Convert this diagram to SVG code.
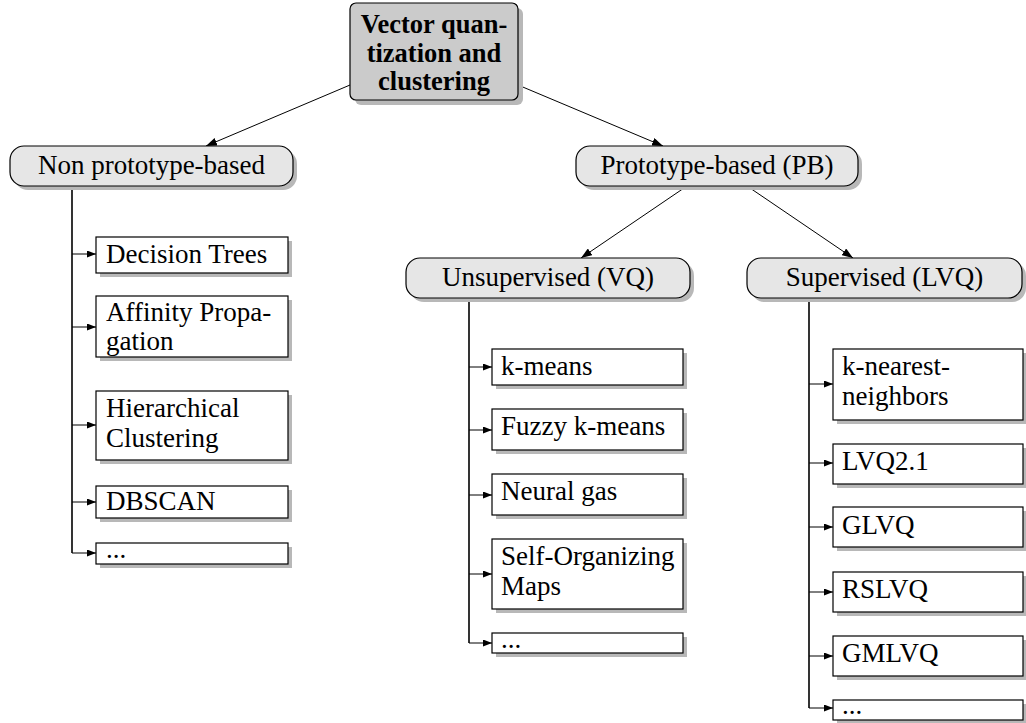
<svg xmlns="http://www.w3.org/2000/svg" width="1026" height="723" viewBox="0 0 1026 723">
<style>
text{font-family:"Liberation Serif","Times New Roman",serif;font-size:27px;fill:#000}
.title{font-weight:bold;font-size:26.5px}
.c{text-anchor:middle}
.sh{fill:#b8b8b8;stroke:none}
.root{fill:#cbcbcb;stroke:#000;stroke-width:1.2}
.pill{fill:#e6e6e6;stroke:#000;stroke-width:1.2}
.box{fill:#fff;stroke:#000;stroke-width:1.2}
.edge{fill:none;stroke:#000;stroke-width:1}
.trunk{fill:none;stroke:#000;stroke-width:1.6}
</style>
<defs>
<marker id="ah" markerUnits="userSpaceOnUse" markerWidth="9" markerHeight="7" refX="9" refY="3.5" orient="auto"><path d="M0,0 L9,3.5 L0,7 z" fill="#000"/></marker>
<marker id="ahL" markerUnits="userSpaceOnUse" markerWidth="11" markerHeight="8" refX="11" refY="4" orient="auto"><path d="M0,0 L11,4 L0,8 z" fill="#000"/></marker>
</defs>

<g id="connectors">
<path class="edge" d="M350,85 L206,146" marker-end="url(#ahL)"/>
<path class="edge" d="M518,85 L663,146" marker-end="url(#ahL)"/>
<path class="edge" d="M687,186 L581,258" marker-end="url(#ahL)"/>
<path class="edge" d="M747,186 L853,258" marker-end="url(#ahL)"/>
<path class="trunk" d="M72,186 V553"/>
<path class="edge" d="M72,254 H96" marker-end="url(#ah)"/>
<path class="edge" d="M72,327 H96" marker-end="url(#ah)"/>
<path class="edge" d="M72,425 H96" marker-end="url(#ah)"/>
<path class="edge" d="M72,502 H96" marker-end="url(#ah)"/>
<path class="edge" d="M72,553 H96" marker-end="url(#ah)"/>
<path class="trunk" d="M469,298 V643"/>
<path class="edge" d="M469,367 H492" marker-end="url(#ah)"/>
<path class="edge" d="M469,430 H492" marker-end="url(#ah)"/>
<path class="edge" d="M469,495 H492" marker-end="url(#ah)"/>
<path class="edge" d="M469,574 H492" marker-end="url(#ah)"/>
<path class="edge" d="M469,643 H492" marker-end="url(#ah)"/>
<path class="trunk" d="M809,298 V708"/>
<path class="edge" d="M809,384 H833" marker-end="url(#ah)"/>
<path class="edge" d="M809,463 H833" marker-end="url(#ah)"/>
<path class="edge" d="M809,527 H833" marker-end="url(#ah)"/>
<path class="edge" d="M809,592 H833" marker-end="url(#ah)"/>
<path class="edge" d="M809,656 H833" marker-end="url(#ah)"/>
<path class="edge" d="M809,708 H833" marker-end="url(#ah)"/>
</g>

<g id="root">
<rect class="sh" x="355" y="8" width="168" height="97" rx="6"/>
<rect class="root" x="350" y="3" width="168" height="97" rx="6"/>
<text class="title c" x="434" y="33">Vector quan-</text>
<text class="title c" x="434" y="62">tization and</text>
<text class="title c" x="434" y="90">clustering</text>
</g>

<g id="nonpb">
<rect class="sh" x="14" y="150" width="283" height="40" rx="14"/>
<rect class="pill" x="10" y="146" width="283" height="40" rx="14"/>
<text class="c" x="151.5" y="174">Non prototype-based</text>
</g>
<g id="pb">
<rect class="sh" x="580" y="150" width="282" height="40" rx="14"/>
<rect class="pill" x="576" y="146" width="282" height="40" rx="14"/>
<text class="c" x="717" y="174">Prototype-based (PB)</text>
</g>
<g id="unsup">
<rect class="sh" x="410" y="262" width="284" height="40" rx="14"/>
<rect class="pill" x="406" y="258" width="284" height="40" rx="14"/>
<text class="c" x="548" y="286">Unsupervised (VQ)</text>
</g>
<g id="sup">
<rect class="sh" x="751" y="262" width="275" height="40" rx="14"/>
<rect class="pill" x="747" y="258" width="275" height="40" rx="14"/>
<text class="c" x="884.5" y="286">Supervised (LVQ)</text>
</g>

<g id="dt">
<rect class="sh" x="100" y="241" width="192" height="36"/>
<rect class="box" x="96" y="237" width="192" height="36"/>
<text x="106" y="263">Decision Trees</text>
</g>
<g id="ap">
<rect class="sh" x="100" y="300" width="192" height="61"/>
<rect class="box" x="96" y="296" width="192" height="61"/>
<text x="106" y="321">Affinity Propa-</text>
<text x="106" y="350">gation</text>
</g>
<g id="hc">
<rect class="sh" x="100" y="395" width="192" height="69"/>
<rect class="box" x="96" y="391" width="192" height="69"/>
<text x="106" y="417">Hierarchical</text>
<text x="106" y="447">Clustering</text>
</g>
<g id="dbscan">
<rect class="sh" x="100" y="490" width="192" height="32"/>
<rect class="box" x="96" y="486" width="192" height="32"/>
<text x="106" y="510">DBSCAN</text>
</g>
<g id="more1">
<rect class="sh" x="100" y="547" width="192" height="21"/>
<rect class="box" x="96" y="543" width="192" height="21"/>
<text x="106" y="558">...</text>
</g>

<g id="kmeans">
<rect class="sh" x="496" y="353" width="191" height="36"/>
<rect class="box" x="492" y="349" width="191" height="36"/>
<text x="501" y="375">k-means</text>
</g>
<g id="fuzzy">
<rect class="sh" x="496" y="413" width="191" height="41"/>
<rect class="box" x="492" y="409" width="191" height="41"/>
<text x="501" y="435">Fuzzy k-means</text>
</g>
<g id="ng">
<rect class="sh" x="496" y="478" width="191" height="41"/>
<rect class="box" x="492" y="474" width="191" height="41"/>
<text x="501" y="500">Neural gas</text>
</g>
<g id="som">
<rect class="sh" x="496" y="543" width="191" height="70"/>
<rect class="box" x="492" y="539" width="191" height="70"/>
<text x="501" y="565">Self-Organizing</text>
<text x="501" y="595">Maps</text>
</g>
<g id="more2">
<rect class="sh" x="496" y="637" width="191" height="20"/>
<rect class="box" x="492" y="633" width="191" height="20"/>
<text x="501" y="648">...</text>
</g>

<g id="knn">
<rect class="sh" x="837" y="353" width="190" height="71"/>
<rect class="box" x="833" y="349" width="190" height="71"/>
<text x="842" y="375">k-nearest-</text>
<text x="842" y="405">neighbors</text>
</g>
<g id="lvq21">
<rect class="sh" x="837" y="448" width="190" height="40"/>
<rect class="box" x="833" y="444" width="190" height="40"/>
<text x="842" y="470">LVQ2.1</text>
</g>
<g id="glvq">
<rect class="sh" x="837" y="511" width="190" height="40"/>
<rect class="box" x="833" y="507" width="190" height="40"/>
<text x="842" y="534">GLVQ</text>
</g>
<g id="rslvq">
<rect class="sh" x="837" y="576" width="190" height="40"/>
<rect class="box" x="833" y="572" width="190" height="40"/>
<text x="842" y="598">RSLVQ</text>
</g>
<g id="gmlvq">
<rect class="sh" x="837" y="640" width="190" height="40"/>
<rect class="box" x="833" y="636" width="190" height="40"/>
<text x="842" y="662">GMLVQ</text>
</g>
<g id="more3">
<rect class="sh" x="837" y="704" width="190" height="20"/>
<rect class="box" x="833" y="700" width="190" height="20"/>
<text x="842" y="714">...</text>
</g>
</svg>
